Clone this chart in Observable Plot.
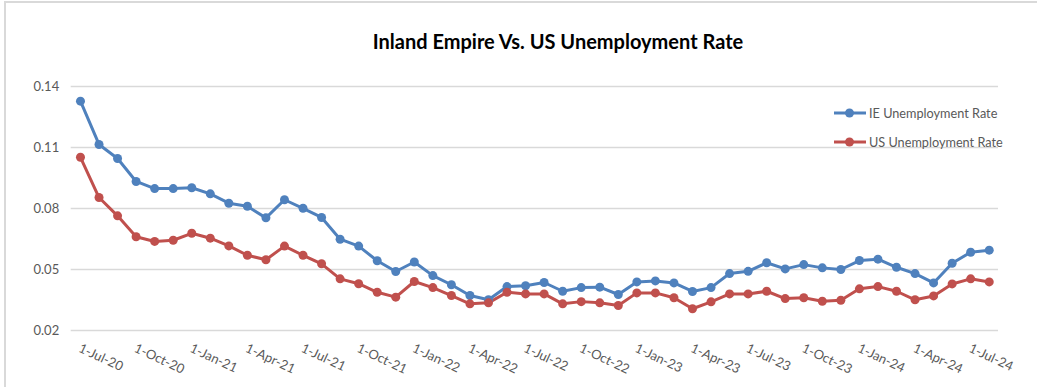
<!DOCTYPE html>
<html>
<head>
<meta charset="utf-8">
<script src="https://cdn.jsdelivr.net/npm/d3@7"></script>
<script src="https://cdn.jsdelivr.net/npm/@observablehq/plot@0.6"></script>
<style>
  html, body { margin: 0; padding: 0; background: #fff; }
  #wrap { position: relative; width: 1037px; height: 387px; overflow: hidden; font-family: Lato, "Open Sans", sans-serif; }
  #frame { position: absolute; left: 4px; top: 1px; width: 1100px; height: 400px; border-left: 2px solid #d9d9d9; border-top: 2px solid #d9d9d9; box-sizing: border-box; }
  #title { position: absolute; left: 0; top: 29px; width: 1116px; text-align: center; font-weight: bold; font-size: 20px; color: #000; font-family: Lato, sans-serif; }
  .leg { position: absolute; left: 833px; display: flex; align-items: center; font-size: 12.7px; color: #595959; }
  .leg svg { margin-right: 2px; }
  #chart { position: absolute; left: 0; top: 0; }
</style>
</head>
<body>
<div id="wrap">
  <div id="frame"></div>
  <div id="chart"></div>
  <div id="title">Inland Empire Vs. US Unemployment Rate</div>
  <div id="legend"></div>
</div>
<script>
const months = [
  "1-Jul-20","1-Aug-20","1-Sep-20","1-Oct-20","1-Nov-20","1-Dec-20",
  "1-Jan-21","1-Feb-21","1-Mar-21","1-Apr-21","1-May-21","1-Jun-21",
  "1-Jul-21","1-Aug-21","1-Sep-21","1-Oct-21","1-Nov-21","1-Dec-21",
  "1-Jan-22","1-Feb-22","1-Mar-22","1-Apr-22","1-May-22","1-Jun-22",
  "1-Jul-22","1-Aug-22","1-Sep-22","1-Oct-22","1-Nov-22","1-Dec-22",
  "1-Jan-23","1-Feb-23","1-Mar-23","1-Apr-23","1-May-23","1-Jun-23",
  "1-Jul-23","1-Aug-23","1-Sep-23","1-Oct-23","1-Nov-23","1-Dec-23",
  "1-Jan-24","1-Feb-24","1-Mar-24","1-Apr-24","1-May-24","1-Jun-24",
  "1-Jul-24","1-Aug-24"
];

const ieRate = [
  0.1328, 0.1115, 0.1046, 0.0933, 0.0898, 0.0898,
  0.0902, 0.0872, 0.0826, 0.0811, 0.0754, 0.0843,
  0.0801, 0.0756, 0.0649, 0.0615, 0.0543, 0.0490,
  0.0537, 0.0470, 0.0425, 0.0372, 0.0351, 0.0416,
  0.0420, 0.0436, 0.0393, 0.0411, 0.0413, 0.0377,
  0.0439, 0.0444, 0.0434, 0.0392, 0.0411, 0.0480,
  0.0491, 0.0533, 0.0503, 0.0524, 0.0508, 0.0500,
  0.0544, 0.0551, 0.0511, 0.0480, 0.0434, 0.0531,
  0.0585, 0.0595
];

const usRate = [
  0.1052, 0.0854, 0.0764, 0.0661, 0.0638, 0.0644,
  0.0678, 0.0654, 0.0616, 0.0570, 0.0548, 0.0615,
  0.0570, 0.0528, 0.0454, 0.0430, 0.0388, 0.0364,
  0.0441, 0.0411, 0.0372, 0.0331, 0.0336, 0.0388,
  0.0380, 0.0380, 0.0331, 0.0342, 0.0336, 0.0323,
  0.0385, 0.0385, 0.0361, 0.0307, 0.0341, 0.0380,
  0.0380, 0.0393, 0.0357, 0.0361, 0.0344, 0.0349,
  0.0405, 0.0416, 0.0393, 0.0351, 0.0370, 0.0429,
  0.0454, 0.0439
];

const seriesNames = ["IE Unemployment Rate", "US Unemployment Rate"];
const seriesColors = ["#4F81BD", "#C0504D"];

const yTicks = [0.02, 0.05, 0.08, 0.11, 0.14];
const yTickLabels = ["0.02", "0.05", "0.08", "0.11", "0.14"];

const xTickLabels = [
  "1-Jul-20","1-Oct-20","1-Jan-21","1-Apr-21","1-Jul-21","1-Oct-21",
  "1-Jan-22","1-Apr-22","1-Jul-22","1-Oct-22","1-Jan-23","1-Apr-23",
  "1-Jul-23","1-Oct-23","1-Jan-24","1-Apr-24","1-Jul-24"
];

const rows = [];
months.forEach((m, i) => {
  rows.push({idx: i, month: m, value: ieRate[i], series: seriesNames[0]});
});
months.forEach((m, i) => {
  rows.push({idx: i, month: m, value: usRate[i], series: seriesNames[1]});
});

const chart = Plot.plot({
  width: 1037,
  height: 387,
  marginLeft: 70.7,
  marginRight: 39,
  marginTop: 86,
  marginBottom: 57,
  style: {background: "transparent", fontFamily: "Lato, 'Open Sans', sans-serif"},
  x: {domain: [-0.5, months.length - 0.5], axis: null},
  y: {domain: [0.02, 0.14], axis: null},
  color: {domain: seriesNames, range: seriesColors},
  marks: [
    Plot.ruleY(yTicks, {stroke: "#d9d9d9", strokeWidth: 1.5}),
    Plot.axisY({
      ticks: yTicks,
      tickSize: 0,
      tickPadding: 12,
      tickFormat: (d) => yTickLabels[yTicks.indexOf(d)],
      fontSize: 13,
      fill: "#595959",
      label: null
    }),
    Plot.text(xTickLabels, {
      x: (d) => months.indexOf(d),
      frameAnchor: "bottom",
      dy: 17,
      dx: -1,
      rotate: 25,
      textAnchor: "start",
      lineAnchor: "middle",
      fontSize: 13,
      fill: "#595959",
      text: (d) => d
    }),
    Plot.line(rows, {x: "idx", y: "value", z: "series", stroke: "series", strokeWidth: 3, strokeLinejoin: "round"}),
    Plot.dot(rows, {x: "idx", y: "value", fill: "series", r: 4.5, stroke: "none"})
  ]
});
document.getElementById("chart").appendChild(chart);

const legend = document.getElementById("legend");
seriesNames.forEach((name, i) => {
  const item = document.createElement("div");
  item.className = "leg";
  item.style.top = (i === 0 ? 105 : 134) + "px";
  item.innerHTML = `<svg width="34" height="16"><line x1="1" y1="8" x2="33" y2="8" stroke="${seriesColors[i]}" stroke-width="3"/><circle cx="16.5" cy="8" r="4.5" fill="${seriesColors[i]}"/></svg><span>${name}</span>`;
  legend.appendChild(item);
});
</script>
</body>
</html>
